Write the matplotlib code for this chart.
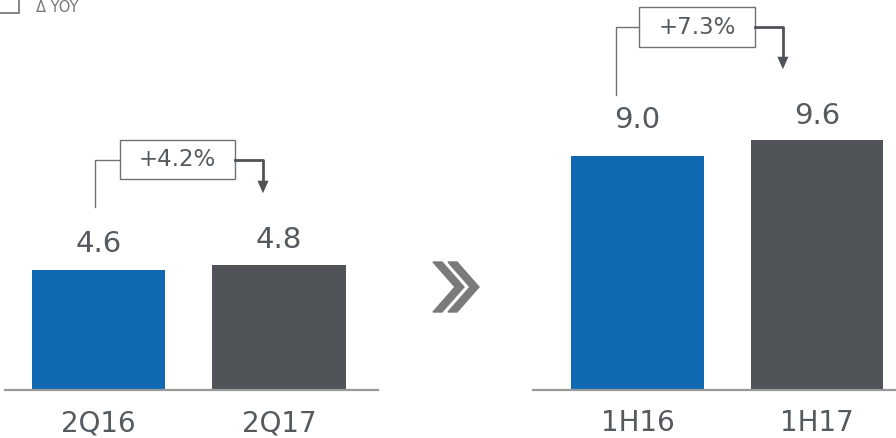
import matplotlib.pyplot as plt
from matplotlib.patches import Rectangle, Polygon
import numpy as np

# data
cats_q = ['2Q16', '2Q17']
vals_q = [4.6, 4.8]
cats_h = ['1H16', '1H17']
vals_h = [9.0, 9.6]
yoy_q = '+4.2%'
yoy_h = '+7.3%'

blue = '#1069B2'
dark = '#505458'
txt = '#555A5F'
line_c = '#6E7175'

plt.rcParams['font.family'] = ['DejaVu Sans']

fig = plt.figure(figsize=(8.96, 4.38), dpi=100)
W, H = 896, 438


def px_axes(x0, x1, y0, y1):
    # pixel box -> figure axes
    return fig.add_axes([x0 / W, 1 - y1 / H, (x1 - x0) / W, (y1 - y0) / H])


def panel(ax, cats, vals, xlim, pads, br):
    x = np.arange(len(vals))
    ax.bar(x, vals, width=0.74, color=[blue, dark])
    ax.set_xlim(*xlim)
    ax.set_ylim(0, 15)
    for s in ['top', 'right', 'left']:
        ax.spines[s].set_visible(False)
    ax.spines['bottom'].set_color('#9A9A9A')
    ax.spines['bottom'].set_linewidth(1.6)
    ax.set_yticks([])
    ax.set_xticks(x)
    ax.set_xticklabels(cats, fontsize=20, color=txt)
    ax.tick_params(axis='x', length=0, pad=14)
    for xi, v, p in zip(x, vals, pads):
        ax.text(xi, v + p, f'{v:.1f}', ha='center', va='baseline',
                fontsize=21, color=txt)
    # yoy bracket
    vx, vy0, yb, bx0, bx1, bh, ax_x, tip, label = br
    ax.plot([vx, vx, bx0], [vy0, yb, yb], color=line_c, lw=1, clip_on=False)
    ax.plot([bx1, ax_x, ax_x], [yb, yb, tip + 0.4], color='#4F5357',
            lw=2, clip_on=False)
    ax.annotate('', xy=(ax_x, tip), xytext=(ax_x, tip + 0.5),
                arrowprops=dict(arrowstyle='-|>,head_length=0.9,head_width=0.4',
                                color='#4F5357', lw=0), annotation_clip=False)
    ax.add_patch(Rectangle((bx0, yb - bh / 2), bx1 - bx0, bh, fill=False,
                           ec=line_c, lw=1, clip_on=False))
    ax.text((bx0 + bx1) / 2, yb, label, ha='center', va='center',
            fontsize=16.5, color=txt)


ax1 = px_axes(5, 378, 0, 390)
panel(ax1, cats_q, vals_q, (-0.518, 1.548), [0.72, 0.68],
      (-0.02, vals_q[0] + 2.44, 8.85, 0.119, 0.756, 1.5, 0.911,
       vals_q[1] + 2.66, yoy_q))

ax2 = px_axes(533, 896, 0, 390)
panel(ax2, cats_h, vals_h, (-0.582, 1.44), [1.08, 0.65],
      (-0.12, vals_h[0] + 2.35, 13.96, 0.008, 0.655, 1.54, 0.81,
       vals_h[1] + 2.63, yoy_h))

# chevrons
for dx in [0, 15]:
    pts = [(433 + dx, 262), (442 + dx, 262), (464 + dx, 287),
           (442 + dx, 312), (433 + dx, 312), (455 + dx, 287)]
    fig.patches.append(Polygon([(px / W, 1 - py / H) for px, py in pts],
                               closed=True, color='#7A7A7A',
                               transform=fig.transFigure))

# legend
fig.patches.append(Rectangle((-10 / W, 1 - 13 / H), 29 / W, 20 / H,
                             fill=False, ec=line_c, lw=1.2,
                             transform=fig.transFigure))
fig.text(36 / W, 1 - 8 / H, 'Δ YOY', fontsize=10.5, color='#777777',
         va='center', ha='left')

fig.savefig('out.png', dpi=100)
